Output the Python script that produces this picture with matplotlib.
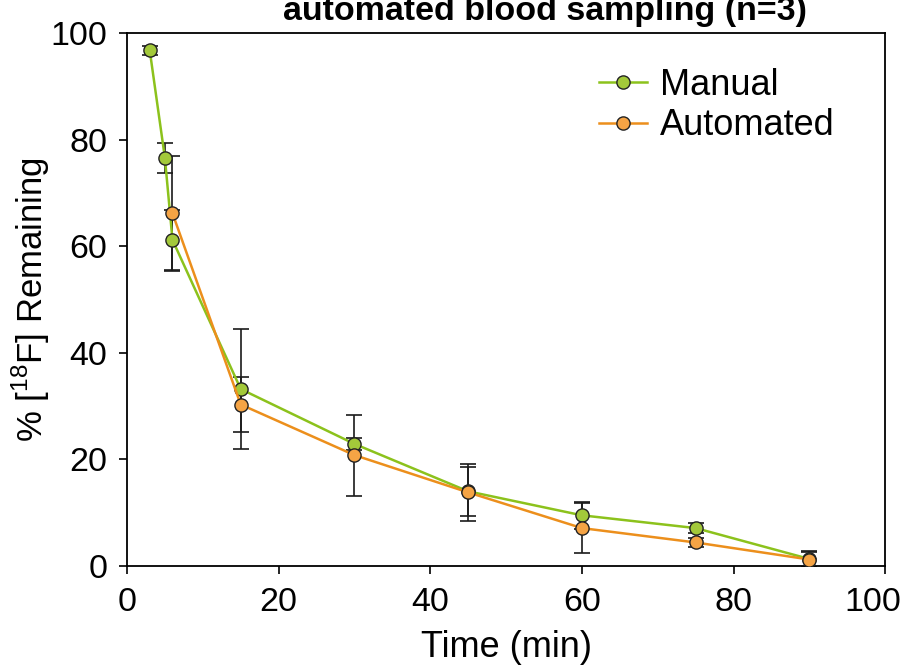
import matplotlib
matplotlib.use('Agg')
import matplotlib.pyplot as plt
from matplotlib.transforms import ScaledTranslation

plt.rcParams['font.family'] = ['Liberation Sans', 'DejaVu Sans']
plt.rcParams['mathtext.fontset'] = 'custom'
plt.rcParams['mathtext.rm'] = 'Liberation Sans'

# data
manual_t = [3, 5, 6, 15, 30, 45, 60, 75, 90]
manual_y = [96.8, 76.6, 61.2, 33.2, 22.9, 14.0, 9.5, 7.1, 1.3]
manual_err = [0.8, 2.8, 5.6, 11.3, 1.1, 4.6, 2.5, 1.0, 1.5]

auto_t = [6, 15, 30, 45, 60, 75, 90]
auto_y = [66.2, 30.3, 20.8, 13.8, 7.1, 4.4, 1.2]
auto_err = [10.8, 5.1, 7.6, 5.3, 4.7, 0.8, 1.5]

green_line = '#8cc21c'
green_fill = '#a3c93a'
orange_line = '#ec8f1c'
orange_fill = '#f5a445'

fig = plt.figure(figsize=(9.07, 6.65), dpi=100)
ax = fig.add_axes([0.140, 0.149, 0.836, 0.801])

ax.errorbar(manual_t, manual_y, yerr=manual_err, fmt='none', ecolor='#1a1a1a',
            elinewidth=1.2, capsize=6, capthick=1.2, zorder=2)
ax.errorbar(auto_t, auto_y, yerr=auto_err, fmt='none', ecolor='#1a1a1a',
            elinewidth=1.2, capsize=6, capthick=1.2, zorder=2)
ax.plot(manual_t, manual_y, '-o', color=green_line, lw=1.8, ms=9.5,
        mfc=green_fill, mec='#222222', mew=1.0, label='Manual', zorder=3)
ax.plot(auto_t, auto_y, '-o', color=orange_line, lw=1.8, ms=9.5,
        mfc=orange_fill, mec='#222222', mew=1.0, label='Automated', zorder=4)

ax.set_xlim(0, 100)
ax.set_ylim(0, 100)
ax.set_xticks([0, 20, 40, 60, 80, 100])
ax.set_yticks([0, 20, 40, 60, 80, 100])
ax.tick_params(axis='both', labelsize=24.5, length=6, width=1.2, direction='out',
               top=False, right=False)
ax.tick_params(axis='x', pad=9)
ax.tick_params(axis='y', pad=8)
for s in ax.spines.values():
    s.set_linewidth(1.3)

# last x tick label sits a little left so it stays inside the picture
last = ax.xaxis.get_major_ticks()[-1].label1
last.set_transform(last.get_transform() + ScaledTranslation(-0.12, 0, fig.dpi_scale_trans))

ax.set_xlabel('Time (min)', fontsize=26, labelpad=9)
ax.set_ylabel('% [$^{18}$F] Remaining', fontsize=25, labelpad=-1)

leg = ax.legend(loc='upper left', fontsize=26, frameon=False, handlelength=1.31,
                handletextpad=0.38, borderaxespad=0, borderpad=0, labelspacing=0.15,
                bbox_to_anchor=(0.623, 0.935))
for h in leg.legend_handles:
    h.set_markersize(9.5)

fig.text(0.601, 1 - 20 / 665, 'automated blood sampling (n=3)', fontsize=24.5,
         fontweight='bold', ha='center', va='baseline')

fig.savefig('out.png', dpi=100, facecolor='white')
